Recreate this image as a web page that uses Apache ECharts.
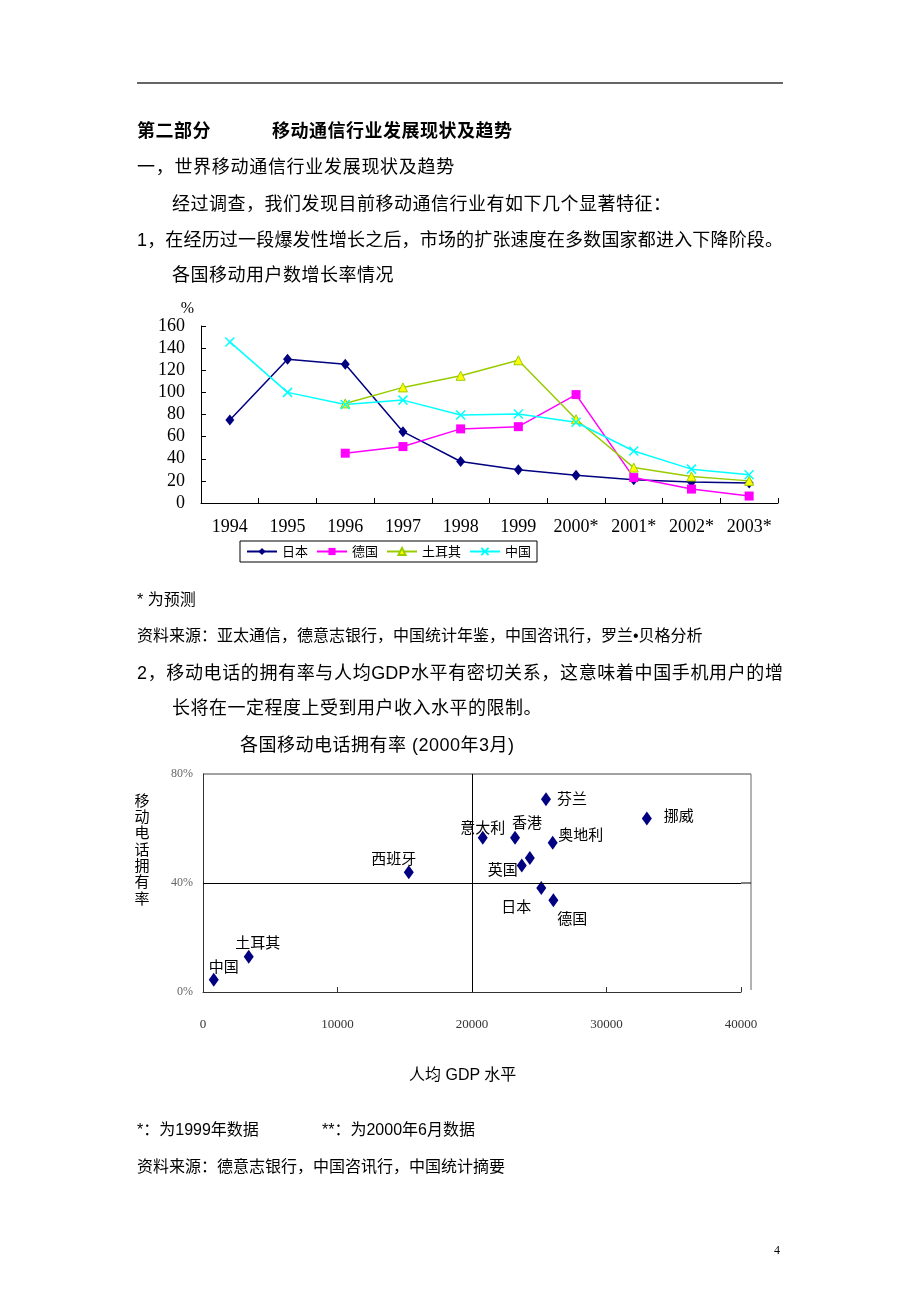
<!DOCTYPE html>
<html><head><meta charset="utf-8">
<script src="https://cdn.jsdelivr.net/npm/echarts@6/dist/echarts.min.js"></script>
<style>
html,body{margin:0;padding:0;background:#fff;}
#page{position:relative;width:920px;height:1302px;overflow:hidden;background:#fff;}
#chart{position:absolute;left:0;top:0;width:920px;height:1302px;}
.t{position:absolute;white-space:nowrap;font-family:"Liberation Sans","Noto Sans CJK SC",sans-serif;color:#000;line-height:24px;height:24px;}
.b18{font-size:18px;letter-spacing:0.5px;}
.s16{font-size:16px;}
.bold{font-weight:700;}
.j{text-align:justify;text-align-last:justify;letter-spacing:0;}
.rule{position:absolute;left:137px;top:82px;width:646px;height:0;border-top:2px solid #666;}
</style></head>
<body>
<div id="page">
<div id="chart"></div>
<div class="rule"></div>
<div class="t b18 bold" style="left:137px;top:119px;">第二部分</div>
<div class="t b18 bold" style="left:272px;top:119px;">移动通信行业发展现状及趋势</div>
<div class="t b18" style="left:137px;top:155px;letter-spacing:0.7px;">一，世界移动通信行业发展现状及趋势</div>
<div class="t b18" style="left:172px;top:192px;">经过调查，我们发现目前移动通信行业有如下几个显著特征：</div>
<div class="t b18 j" style="left:137px;top:228px;width:646px;">1，在经历过一段爆发性增长之后，市场的扩张速度在多数国家都进入下降阶段。</div>
<div class="t b18" style="left:172px;top:263px;">各国移动用户数增长率情况</div>
<div class="t s16" style="left:137px;top:588px;">* 为预测</div>
<div class="t s16" style="left:137px;top:624px;">资料来源：亚太通信，德意志银行，中国统计年鉴，中国咨讯行，罗兰•贝格分析</div>
<div class="t b18 j" style="left:137px;top:661px;width:646px;">2，移动电话的拥有率与人均GDP水平有密切关系，这意味着中国手机用户的增</div>
<div class="t b18" style="left:172px;top:696px;">长将在一定程度上受到用户收入水平的限制。</div>
<div class="t b18" style="left:240px;top:733px;">各国移动电话拥有率 (2000年3月)</div>
<div class="t s16" style="left:409px;top:1063px;">人均 GDP 水平</div>
<div class="t s16" style="left:137px;top:1118px;">*：为1999年数据</div>
<div class="t s16" style="left:322px;top:1118px;">**：为2000年6月数据</div>
<div class="t s16" style="left:137px;top:1155px;">资料来源：德意志银行，中国咨讯行，中国统计摘要</div>
<div class="t" style="left:774px;top:1238px;font-size:12px;font-family:'Liberation Serif',serif;">4</div>
</div>
<script>
// ---- Chart 1: growth rate of mobile users (%) ----
const years = ['1994','1995','1996','1997','1998','1999','2000*','2001*','2002*','2003*'];
const seriesNames = ['日本','德国','土耳其','中国'];
const japan   = [75, 130, 125.5, 64.5, 37.5, 30, 25, 21, 19, 18];
const germany = ['-', '-', 45, 51, 67, 69, 98, 23, 12.6, 6.3];
const turkey  = ['-', '-', 90, 104.5, 115, 129, 75.7, 32, 24, 20];
const china   = [145.6, 100, 89, 93, 79.6, 80.5, 73, 47, 30.6, 25.5];

// ---- Chart 2: mobile penetration vs GDP per capita ----
const countries   = ['中国','土耳其','西班牙','意大利','香港','芬兰','挪威','奥地利','英国','','日本','德国'];
const gdp         = [800, 3400, 15300, 20800, 23200, 25500, 33000, 26000, 23700, 24300, 25150, 26050];
const penetration = [4.5, 12.9, 43.9, 56.6, 56.6, 70.7, 63.7, 54.8, 46.4, 49.2, 38.2, 33.7];
const yAxisName2  = '移动电话拥有率';

// label placement (layout only)
const labelOffsets = [[10,-13],[9,-15],[-15,-14],[0,-10],[12,-15],[26,-1],[32,-3],[28,-8],[-19,4],[0,0],[-25,18],[19,18]];

const chart = echarts.init(document.getElementById('chart'), null, {renderer:'canvas'});
const serif = 'Liberation Serif';
const cjk = 'Noto Sans CJK SC';

const scatterData = gdp.map((g,i)=>({
  value:[g, penetration[i]], name: countries[i],
  label:{show: countries[i] !== '', offset: labelOffsets[i]}
}));

const option = {
  animation:false,
  backgroundColor:'transparent',
  grid:[
    {left:201, top:326, width:577, height:177},
    {left:203, top:774, width:538, height:218}
  ],
  legend:{
    data:seriesNames, left:240, top:541, orient:'horizontal',
    borderColor:'#000', borderWidth:1, padding:[4,6,4,6],
    itemGap:8, itemWidth:30, itemHeight:9,
    textStyle:{fontSize:13, fontFamily:cjk, color:'#000'}
  },
  xAxis:[
    {type:'category', gridIndex:0, data:years, boundaryGap:true,
     axisLine:{lineStyle:{color:'#000', width:1}},
     axisTick:{show:true, inside:true, length:5, lineStyle:{color:'#000'}},
     axisLabel:{margin:15, fontSize:18, fontFamily:serif, color:'#000', interval:0},
     splitLine:{show:false}},
    {type:'value', gridIndex:1, min:0, max:40000, interval:10000,
     axisLine:{lineStyle:{color:'#333', width:1}},
     axisTick:{show:true, inside:true, length:5, lineStyle:{color:'#333'}},
     axisLabel:{margin:26, fontSize:13, fontFamily:serif, color:'#333', formatter:v=>String(v)},
     splitLine:{show:false}}
  ],
  yAxis:[
    {type:'value', gridIndex:0, min:0, max:160, interval:20,
     name:'%', nameLocation:'end', nameGap:2,
     nameTextStyle:{fontSize:16, fontFamily:serif, color:'#000', align:'right', padding:[0,7,0,0]},
     axisLine:{show:true, lineStyle:{color:'#000', width:1}},
     axisTick:{show:true, inside:true, length:5, lineStyle:{color:'#000'}},
     axisLabel:{margin:16, fontSize:18, fontFamily:serif, color:'#000'},
     splitLine:{show:false}},
    {type:'value', gridIndex:1, min:0, max:80, interval:40,
     axisLine:{show:true, lineStyle:{color:'#333', width:1}},
     axisTick:{show:false},
     axisLabel:{margin:10, fontSize:12, fontFamily:serif, color:'#666', formatter:'{value}%'},
     splitLine:{show:false}}
  ],
  series:[
    {name:'日本', type:'line', xAxisIndex:0, yAxisIndex:0, data:japan,
     symbol:'diamond', symbolSize:[9,11], lineStyle:{color:'#000080', width:1.5},
     itemStyle:{color:'#000080'}},
    {name:'德国', type:'line', xAxisIndex:0, yAxisIndex:0, data:germany,
     symbol:'rect', symbolSize:9, lineStyle:{color:'#FF00FF', width:1.5},
     itemStyle:{color:'#FF00FF'}},
    {name:'土耳其', type:'line', xAxisIndex:0, yAxisIndex:0, data:turkey,
     symbol:'triangle', symbolSize:9, lineStyle:{color:'#99CC00', width:1.5},
     itemStyle:{color:'#FFFF00', borderColor:'#99CC00', borderWidth:1}},
    {name:'中国', type:'line', xAxisIndex:0, yAxisIndex:0, data:china,
     symbol:'path://M0,0L10,10M10,0L0,10', symbolSize:9, lineStyle:{color:'#00FFFF', width:1.5},
     itemStyle:{color:'#00FFFF', borderColor:'#00FFFF', borderWidth:1.5}},
    {name:'拥有率', type:'scatter', xAxisIndex:1, yAxisIndex:1, data:scatterData,
     symbol:'diamond', symbolSize:[10,14], itemStyle:{color:'#000080', opacity:1},
     label:{show:true, position:'inside', formatter:'{b}', fontSize:15, fontFamily:cjk, color:'#000'},
     emphasis:{disabled:true},
     markLine:{silent:true, symbol:['none','none'], animation:false,
       lineStyle:{color:'#000', width:1, type:'solid'}, label:{show:false},
       data:[{yAxis:40},{xAxis:20000}]}}
  ]
};
chart.setOption(option);

// frame around scatter plot area (decoration), derived from the axes
const ref = {xAxisIndex:1, yAxisIndex:1};
const pTR = chart.convertToPixel(ref, [40000, 80]);
const pO  = chart.convertToPixel(ref, [0, 0]);
const p40 = chart.convertToPixel(ref, [40000, 40]);
const rightX = pTR[0] + 10;
const nameChars = yAxisName2.split('').join('\n');
chart.setOption({
  graphic:[
    {type:'line', shape:{x1:pO[0], y1:pTR[1], x2:rightX, y2:pTR[1]}, style:{stroke:'#444', lineWidth:1}, silent:true},
    {type:'line', shape:{x1:rightX, y1:pTR[1], x2:rightX, y2:pO[1]-2}, style:{stroke:'#666', lineWidth:1}, silent:true},
    {type:'line', shape:{x1:p40[0], y1:p40[1], x2:rightX, y2:p40[1]}, style:{stroke:'#000', lineWidth:1}, silent:true},
    {type:'text', x:142, y:792, style:{text:nameChars, fontSize:15, lineHeight:16.3, fontFamily:cjk, fill:'#000', align:'center', verticalAlign:'top'}, silent:true}
  ]
});
</script>
</body></html>
